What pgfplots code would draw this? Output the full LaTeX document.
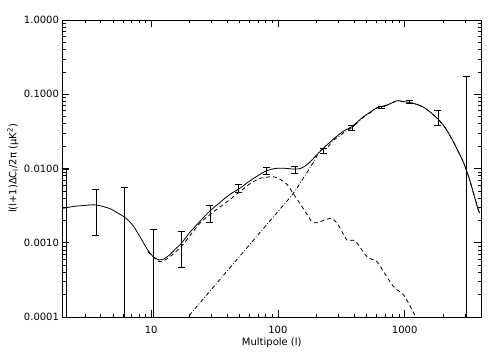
\documentclass[border=0pt]{standalone}
\usepackage{fontspec}
\setmainfont{DejaVu Sans}
\usepackage{pgfplots}
\pgfplotsset{compat=1.18}
\begin{document}
\fontsize{10bp}{12bp}\selectfont
\begin{tikzpicture}
\begin{axis}[
  xmode=log, ymode=log,
  scale only axis, width=418.5bp, height=297bp,
  xmin=2, xmax=4000, ymin=1e-4, ymax=1,
  xtick={10,100,1000}, xticklabels={10,100,1000},
  minor xtick={2,3,4,5,6,7,8,9,20,30,40,50,60,70,80,90,200,300,400,500,600,700,800,900,2000,3000},
  ytick={1e-4,1e-3,1e-2,1e-1,1},
  yticklabels={0.0001,0.0010,0.0100,0.1000,1.0000},
  minor ytick={2e-4,3e-4,4e-4,5e-4,6e-4,7e-4,8e-4,9e-4,2e-3,3e-3,4e-3,5e-3,6e-3,7e-3,8e-3,9e-3,0.02,0.03,0.04,0.05,0.06,0.07,0.08,0.09,0.2,0.3,0.4,0.5,0.6,0.7,0.8,0.9},
  tick align=inside, major tick length=7bp, minor tick length=3.5bp,
  tick style={black, line width=0.6bp},
  axis line style={line width=0.8bp},
  xticklabel style={yshift=-5.5bp},
  xlabel={Multipole (l)},
  ylabel={l(l+1)ΔC\textsubscript{l}/2π (μK\textsuperscript{2})},
  xlabel style={at={(axis description cs:0.5,-0.085)}, anchor=center},
  ylabel style={at={(axis description cs:-0.1183,0.5)}, anchor=center},
  every axis plot/.append style={black, line width=0.8bp},
]
% total (solid)
\addplot[smooth, tension=0.5] coordinates {
(2,0.0029) (2.5,0.0031) (3,0.00318) (3.67,0.00323) (4.68,0.0029) (5.5,0.0025)
(6.34,0.00213) (7.2,0.0017) (8.07,0.00125) (9.4,0.0008) (10.5,0.00064)
(11.6,0.000586) (12.5,0.0006) (13.96,0.000684) (15.5,0.00082) (17.3,0.00098)
(20,0.00135) (24.1,0.00192) (28.9,0.00265) (35,0.0035) (42,0.0045) (50,0.0054)
(60,0.0068) (72,0.0083) (81,0.0093) (95,0.0100) (110,0.0101) (136,0.0098)
(150,0.0100) (164,0.0108) (183,0.0127) (202,0.0152) (243,0.0207) (300,0.0283)
(340,0.033) (383,0.0366) (473,0.0499) (540,0.058) (604,0.0659) (726,0.0716)
(871,0.0818) (960,0.080) (1077,0.0778) (1250,0.073) (1416,0.0667) (1600,0.057)
(1807,0.0474) (2050,0.037) (2303,0.0268) (2600,0.018) (2934,0.0117) (3300,0.0065)
(3742,0.00306) (3900,0.0025)
};
% dashed component
\addplot[dash pattern=on 4bp off 3bp, smooth, tension=0.4] coordinates {
(9.4,0.00076) (11.6,0.000556) (13.96,0.00064) (17.7,0.00093) (24,0.0018)
(30,0.0025) (40,0.0036) (50,0.00487) (60,0.0062) (72,0.00738) (81,0.0076)
(90,0.0078) (100,0.0074) (117,0.0062) (141,0.0039) (165,0.0026) (185,0.00192)
(202,0.00186) (230,0.0020) (266,0.00213) (300,0.00173) (350,0.00109)
(407,0.00106) (504,0.00065) (604,0.000556) (682,0.000407) (818,0.000256)
(982,0.000198) (1109,0.000138) (1216,0.000101) (1260,0.00008)
};
% dash-dot component
\addplot[dash pattern=on 4bp off 2bp on 0.8bp off 2bp, smooth, tension=0.5] coordinates {
(18,0.000085) (50,0.000658) (100,0.00263) (132,0.0046) (164,0.0081) (190,0.0120)
(216,0.0175) (243,0.0188) (270,0.0235) (300,0.0266) (340,0.0315) (383,0.0355)
(473,0.049) (540,0.057) (604,0.0653) (726,0.0711) (871,0.0815) (960,0.0798)
(1077,0.0776) (1250,0.0729) (1416,0.0666) (1600,0.057) (1807,0.0474)
(2050,0.037) (2303,0.0268) (2600,0.018) (2934,0.0117) (3300,0.0065)
(3742,0.00306) (3900,0.0025)
};
% binned data with error bars
\addplot[draw=none, mark=none, line width=0.8bp,
  error bars/.cd, y dir=both, y explicit, error mark=|,
  error mark options={mark size=3.5bp, line width=0.8bp}]
coordinates {
(2.13,0.003) += (0,0.0067) -= (0,0.0029)
(3.67,0.00255) += (0,0.0027) -= (0,0.00131)
(6.15,0.0021) += (0,0.00348) -= (0,0.002)
(10.4,0.0006) += (0,0.00089) -= (0,0.0005)
(17.4,0.00082) += (0,0.00062) -= (0,0.000353)
(29,0.00244) += (0,0.00072) -= (0,0.00056)
(49,0.00537) += (0,0.00075) -= (0,0.00065)
(81,0.0093) += (0,0.00096) -= (0,0.00087)
(136,0.00955) += (0,0.00105) -= (0,0.00095)
(229,0.0173) += (0,0.0014) -= (0,0.0013)
(383,0.0356) += (0,0.0029) -= (0,0.0026)
(654,0.0659) += (0,0.0021) -= (0,0.0021)
(1095,0.0781) += (0,0.0037) -= (0,0.0035)
(1830,0.0476) += (0,0.0124) -= (0,0.0099)
(3050,0.011) += (0,0.161) -= (0,0.0109)
};
\end{axis}
\pgfresetboundingbox
\path[use as bounding box] ([shift={(-62.5bp,-40bp)}]current axis.south west) rectangle ([shift={(19bp,20bp)}]current axis.north east);
\end{tikzpicture}
\end{document}
